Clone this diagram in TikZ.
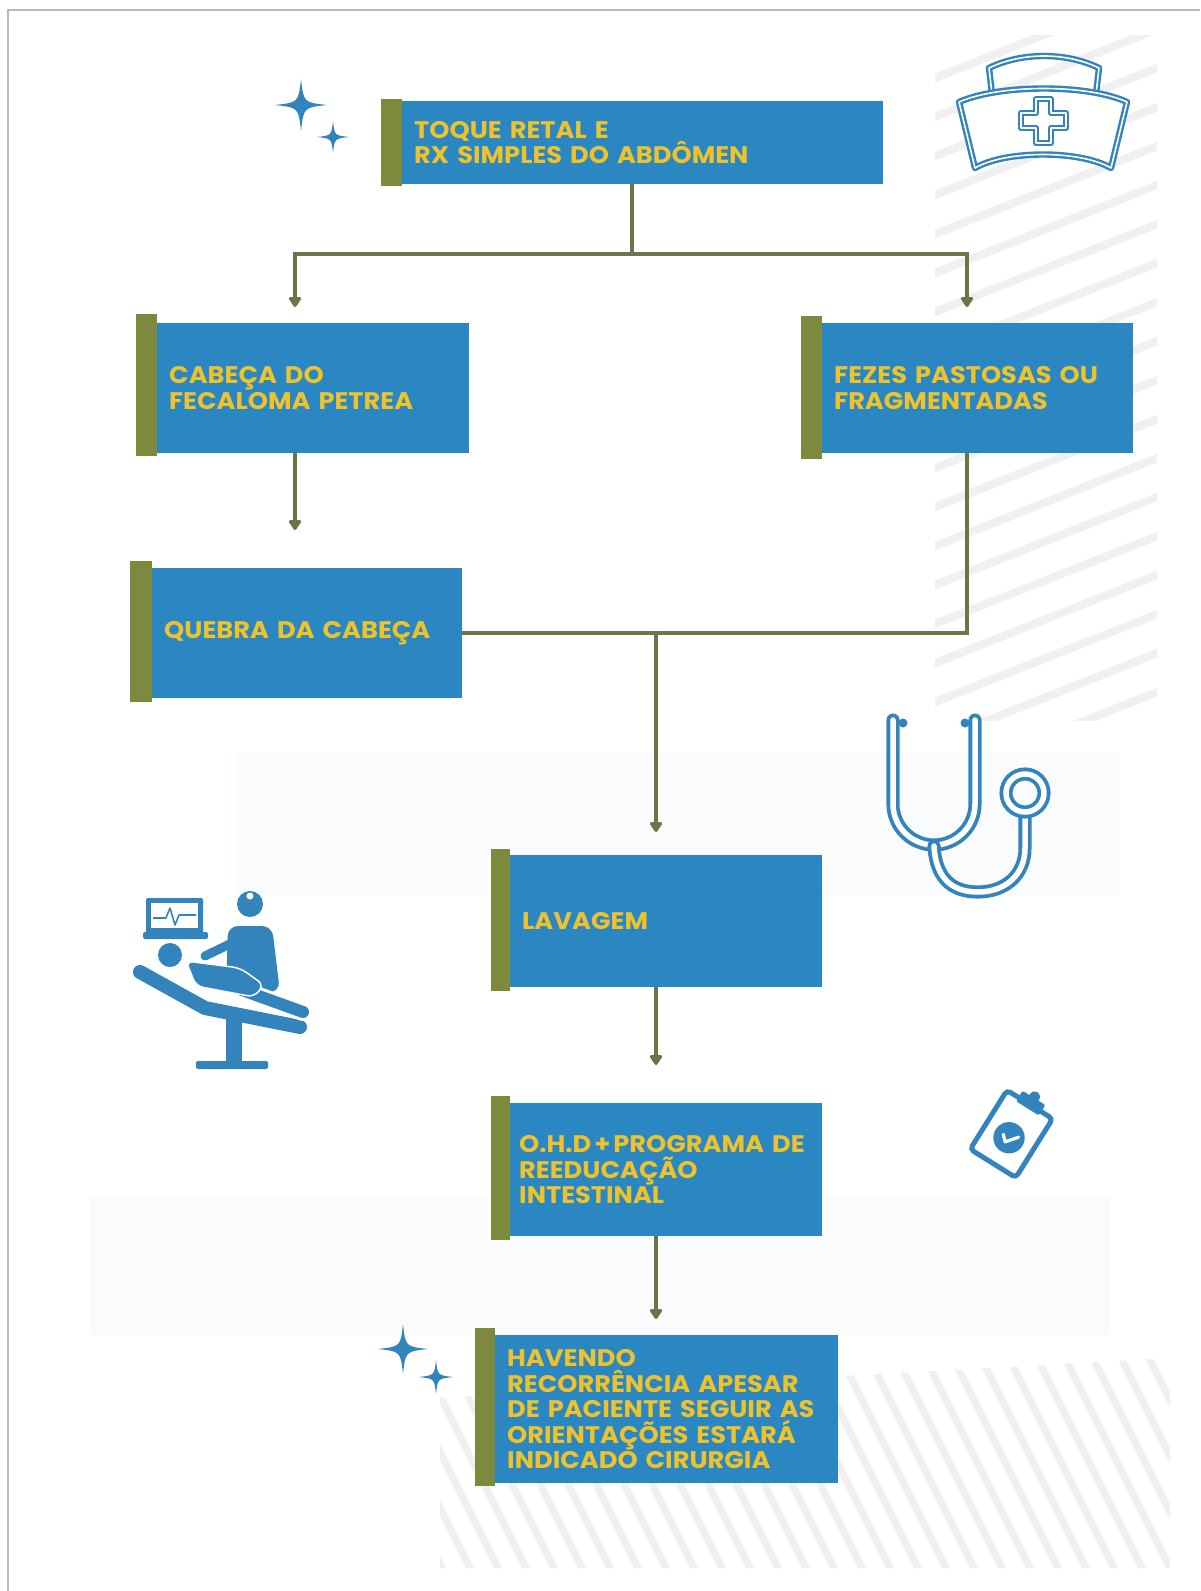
\documentclass[tikz,border=0pt]{standalone}
\usepackage{fontspec}
\newfontfamily\boxfont{Poppins}[FakeStretch=1.07]
\usetikzlibrary{arrows.meta,calc}

\definecolor{boxblue}{HTML}{2A87C2}
\definecolor{barolive}{HTML}{7D8A3E}
\definecolor{linkolive}{HTML}{6B7545}
\definecolor{labelgold}{HTML}{EDC22C}
\definecolor{iconblue}{HTML}{3383BD}
\definecolor{stripegray}{HTML}{F0F0F0}
\definecolor{hazeblue}{HTML}{F9FBFD}

\tikzset{
  flowbox/.style={fill=boxblue, anchor=north west, inner xsep=12pt, inner ysep=0pt,
    align=left, text=labelgold, font=\boxfont\bfseries\fontsize{24}{25.5}\selectfont},
  sidebar/.style={fill=barolive, anchor=north west, inner sep=0pt},
  conn/.style={draw=linkolive, line width=4pt},
  arr/.style={conn, -{Triangle[length=11pt, width=14pt, round]}},
  outline/.style={draw=iconblue, line width=2.4pt, double=white, double distance=1.6pt, line join=round},
  tube/.style={draw=iconblue, line width=3.8pt, double=white, double distance=5.5pt, line cap=round, line join=round},
  sparkle/.pic={\fill[iconblue] (0,-1) .. controls (0.1,-0.1) .. (1,0) .. controls (0.1,0.1) .. (0,1)
     .. controls (-0.1,0.1) .. (-1,0) .. controls (-0.1,-0.1) .. cycle;}
}

\begin{document}
\begin{tikzpicture}[x=1pt, y=-1pt]
% page
\fill[white] (0,0) rectangle (1200,1591);
\useasboundingbox (0,0) rectangle (1200,1591);
\draw[gray!55, line width=2.5pt] (1200,10) -- (8,10) -- (8,1591);

% faint background bands
\fill[hazeblue] (235,752) rectangle (1120,895);
\fill[hazeblue] (90,1198) rectangle (1110,1335);

% diagonal stripes, upper right
\begin{scope}
  \clip (935,35) rectangle (1157,720);
  \foreach \k in {0,...,23}
    \draw[stripegray, line width=8pt] (930, 80+39*\k) -- (1170, -15+39*\k);
\end{scope}

% diagonal stripes, lower part
\begin{scope}
  \clip (440,1398) -- (1170,1358) -- (1170,1568) -- (440,1568) -- cycle;
  \foreach \k in {0,...,30}
    \draw[stripegray, line width=7pt] (300+28*\k, 1340) -- (420+28*\k, 1580);
\end{scope}

% sparkles
\pic[scale=26] at (301,105) {sparkle};
\pic[scale=16] at (333,137) {sparkle};
\pic[scale=25] at (403,1349) {sparkle};
\pic[scale=17] at (436,1377) {sparkle};

% flow boxes
\node[flowbox, minimum width=481pt, minimum height=83pt, text width=457pt] (b1) at (402,101)
  {TOQUE RETAL E\\RX SIMPLES DO ABDÔMEN};
\node[sidebar, minimum width=21pt, minimum height=87pt] (g1) at (381,99) {};

\node[flowbox, minimum width=312pt, minimum height=130pt, text width=288pt] (b2) at (157,323)
  {CABEÇA DO\\FECALOMA PETREA};
\node[sidebar, minimum width=21pt, minimum height=142pt] (g2) at (136,314) {};

\node[flowbox, minimum width=311pt, minimum height=130pt, text width=287pt] (b3) at (822,323)
  {FEZES PASTOSAS OU\\FRAGMENTADAS};
\node[sidebar, minimum width=21pt, minimum height=143pt] (g3) at (801,316) {};

\node[flowbox, minimum width=310pt, minimum height=130pt, text width=286pt] (b4) at (152,568)
  {QUEBRA DA CABEÇA};
\node[sidebar, minimum width=22pt, minimum height=141pt] (g4) at (130,561) {};

\node[flowbox, minimum width=312pt, minimum height=132pt, text width=288pt] (b5) at (510,855)
  {LAVAGEM};
\node[sidebar, minimum width=19pt, minimum height=142pt] (g5) at (491,849) {};

\node[flowbox, inner xsep=9pt, minimum width=312pt, minimum height=133pt, text width=294pt] (b6) at (510,1103)
  {\mbox{O.H.D\hspace{3pt}+\hspace{3pt}PROGRAMA DE}\\REEDUCAÇÃO\\INTESTINAL};
\node[sidebar, minimum width=19pt, minimum height=144pt] (g6) at (491,1096) {};

\node[flowbox, minimum width=343pt, minimum height=148pt, text width=319pt] (b7) at (495,1335)
  {HAVENDO\\RECORRÊNCIA APESAR\\DE PACIENTE SEGUIR AS\\ORIENTAÇÕES ESTARÁ\\INDICADO CIRURGIA};
\node[sidebar, minimum width=20pt, minimum height=158pt] (g7) at (475,1328) {};

% connectors
\coordinate (split) at (632,254);
\coordinate (t2) at (295,307);
\coordinate (t3) at (967,307);
\coordinate (t4) at (295,530);
\coordinate (join) at (656,634);
\coordinate (t5) at (656,832);
\coordinate (t6) at (656,1065);
\coordinate (t7) at (656,1319);

\draw[conn] (split |- b1.south) -- (split);
\draw[arr] (split) -| (t2);
\draw[arr] (split) -| (t3);
\draw[arr] (t2 |- b2.south) -- (t4);
\draw[conn] (b4.east) -| (t3 |- b3.south);
\draw[arr] (join) -- (t5);
\draw[arr] (join |- b5.south) -- (t6);
\draw[arr] (join |- b6.south) -- (t7);

% nurse cap
\draw[outline] (992,94) -- (989,68) .. controls (1022,52) and (1066,52) .. (1099,68) -- (1096,94);
\draw[outline, fill=white] (959,102) .. controls (1000,84) and (1088,84) .. (1127,102)
  -- (1111,168) .. controls (1080,150) and (1006,150) .. (975,168) -- cycle;
\draw[outline] (1036,99) -- (1051,99) -- (1051,113) -- (1066,113) -- (1066,128) -- (1051,128)
  -- (1051,143) -- (1036,143) -- (1036,128) -- (1021,128) -- (1021,113) -- (1036,113) -- cycle;

% stethoscope
\draw[tube] (893,720) -- (893,804) arc[start angle=180, end angle=360, x radius=41, y radius=-41] -- (975,720);
\draw[tube] (934,846) .. controls (936,884) and (958,892) .. (978,892)
  .. controls (1004,892) and (1025,876) .. (1025,848) -- (1025,815);
\draw[tube, line cap=butt] (1025,793) circle[radius=19];
\fill[iconblue] (903,723) circle[radius=4.5];
\fill[iconblue] (965,723) circle[radius=4.5];

% examination scene
\fill[iconblue, rounded corners=2pt] (146,898) rectangle (203,934);
\fill[white] (151,903) rectangle (198,928);
\draw[iconblue, line width=1.6pt, line join=round] (153,918) -- (166,918) -- (170,908) -- (175,925) -- (179,915) -- (196,915);
\fill[iconblue, rounded corners=2pt] (143,932) rectangle (208,939);
\fill[iconblue] (250,904) circle[radius=13];
\fill[white] (250,896) circle[radius=3.5];
\fill[iconblue, rounded corners=10pt] (228,926) -- (272,926) -- (280,992) -- (226,992) -- cycle;
\draw[iconblue, line width=9pt, line cap=round] (236,941) -- (205,956);
\fill[iconblue] (170,955) circle[radius=12];
\draw[iconblue, line width=14pt, line cap=round, line join=round] (140,972) -- (205,1008) -- (300,1027);
\draw[white, line width=18pt, line cap=round] (242,990) -- (303,1012);
\draw[iconblue, line width=12pt, line cap=round] (242,990) -- (303,1012);
\filldraw[fill=iconblue, draw=white, line width=1.5pt, rounded corners=7pt]
  (186,961) -- (240,968) -- (264,985) -- (254,997) -- (196,986) -- cycle;
\fill[iconblue] (226,1015) rectangle (242,1064);
\fill[iconblue, rounded corners=2pt] (196,1061) rectangle (268,1069);

% clipboard
\begin{scope}[shift={(1012,1133)}, rotate=-32, scale=1.12]
  \draw[iconblue, line width=5pt, rounded corners=4pt] (-24,-30) rectangle (24,32);
  \fill[iconblue, rounded corners=2pt] (-12,-37) rectangle (12,-26);
  \fill[iconblue] (0,-38) circle[radius=5];
  \fill[iconblue] (0,5) circle[radius=14];
  \draw[white, line width=3.2pt, line cap=round, line join=round] (-6,5) -- (-1,10) -- (7,0);
\end{scope}
\end{tikzpicture}
\end{document}
